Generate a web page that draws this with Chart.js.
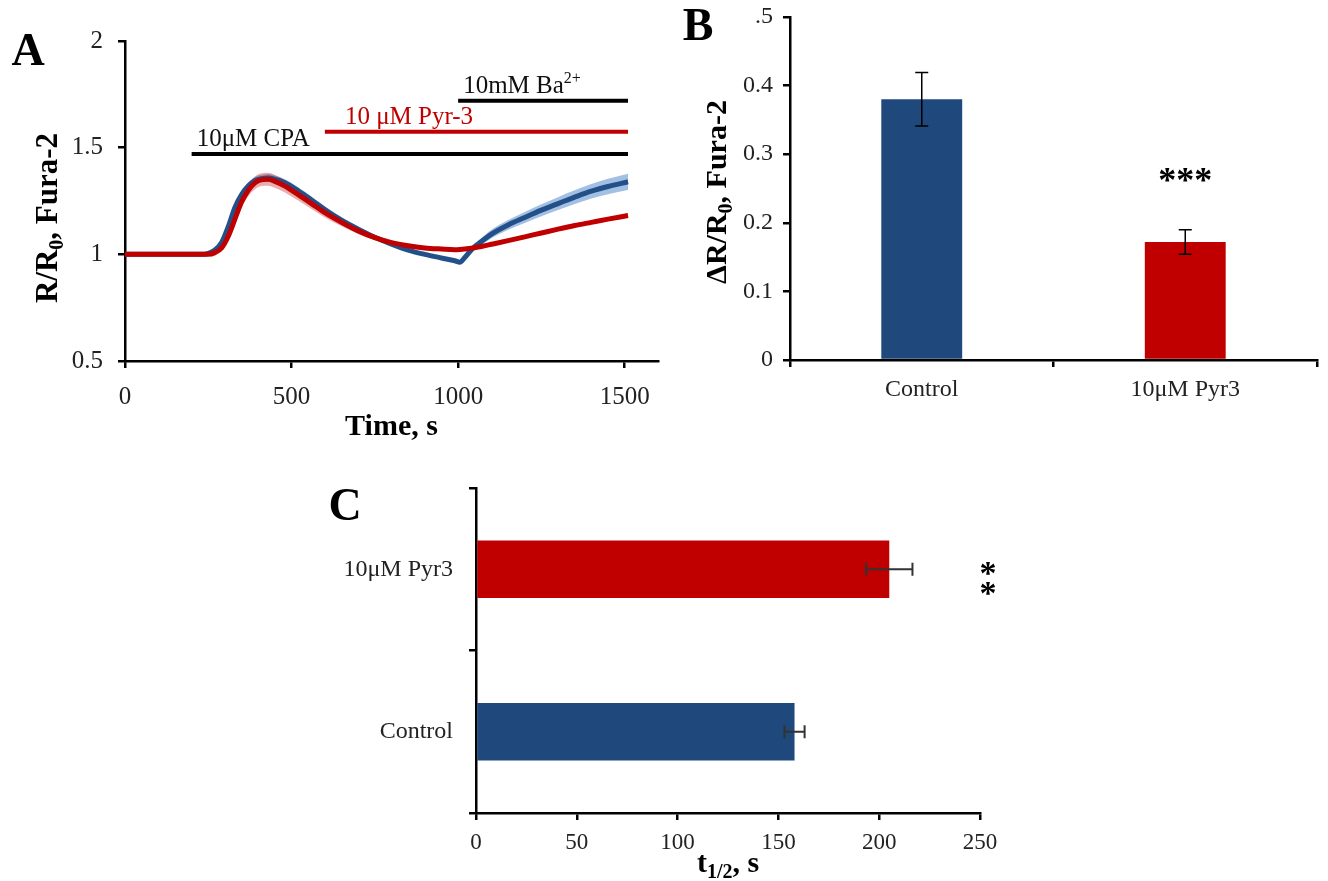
<!DOCTYPE html>
<html>
<head>
<meta charset="utf-8">
<title>Pyr3 and store-operated Ca2+ entry</title>
<script src="https://cdn.jsdelivr.net/npm/chart.js"></script>
<style>
    html, body { margin: 0; padding: 0; background: #fff; }
    #figure { position: relative; width: 1328px; height: 881px; }
    #figure canvas { position: absolute; }
</style>
</head>
<body>
<div id="figure">
    <canvas id="chartA" width="680" height="450" style="left:0;top:0"></canvas>
    <canvas id="chartB" width="648" height="420" style="left:680px;top:0"></canvas>
    <canvas id="chartC" width="740" height="411" style="left:300px;top:470px"></canvas>
</div>
<script>
// ---- Panel A: Fura-2 ratio traces (mean +/- SEM) ----
const timeS = [0, 50, 100, 150, 200, 230, 250, 270, 290, 310, 330, 350, 370, 390, 410, 430, 450, 480,
    520, 560, 600, 650, 700, 750, 800, 850, 900, 950, 990, 1005, 1020, 1045, 1070, 1100, 1150, 1200,
    1250, 1300, 1350, 1400, 1450, 1510];
const controlMean = [1.0, 1.0, 1.0, 1.0, 1.0, 1.0, 1.005, 1.02, 1.055, 1.13, 1.22, 1.28, 1.32, 1.345,
    1.355, 1.358, 1.352, 1.335, 1.298, 1.255, 1.21, 1.16, 1.118, 1.08, 1.048, 1.02, 1.0, 0.983, 0.97,
    0.963, 0.985, 1.03, 1.06, 1.095, 1.138, 1.173, 1.207, 1.238, 1.268, 1.296, 1.318, 1.34];
const controlSem = [0.003, 0.003, 0.003, 0.003, 0.003, 0.003, 0.004, 0.006, 0.008, 0.012, 0.015, 0.017,
    0.018, 0.018, 0.018, 0.018, 0.018, 0.017, 0.016, 0.015, 0.014, 0.013, 0.012, 0.011, 0.01, 0.009,
    0.008, 0.008, 0.008, 0.008, 0.01, 0.014, 0.017, 0.02, 0.023, 0.026, 0.028, 0.03, 0.032, 0.034,
    0.036, 0.038];
const pyr3Mean = [1.0, 1.0, 1.0, 1.0, 1.0, 1.0, 1.0, 1.008, 1.03, 1.085, 1.165, 1.245, 1.3, 1.335, 1.35,
    1.352, 1.342, 1.32, 1.28, 1.238, 1.195, 1.15, 1.11, 1.078, 1.055, 1.04, 1.03, 1.025, 1.022, 1.023,
    1.025, 1.03, 1.037, 1.047, 1.064, 1.082, 1.1, 1.118, 1.135, 1.15, 1.165, 1.182];
const pyr3Sem = [0.003, 0.003, 0.003, 0.003, 0.003, 0.003, 0.004, 0.006, 0.01, 0.015, 0.02, 0.025, 0.028,
    0.03, 0.03, 0.03, 0.03, 0.03, 0.028, 0.025, 0.022, 0.018, 0.015, 0.012, 0.01, 0.008, 0.007, 0.006,
    0.006, 0.006, 0.006, 0.006, 0.006, 0.007, 0.007, 0.008, 0.008, 0.008, 0.009, 0.009, 0.009, 0.01];

// treatment bars drawn above the traces
const treatLabels = ['10μM CPA', '10 μM Pyr-3', '10mM Ba'];
const treatStart = [200, 600, 1000];
const treatEnd = [1510, 1510, 1510];
const treatLevel = [1.47, 1.575, 1.72];

// ---- Panels B and C: summary bars ----
const groups = ['Control', '10μM Pyr3'];
const amplitude = [0.38, 0.172];
const amplitudeSem = [0.039, 0.018];
const halfTime = [158, 205];
const halfTimeSem = [5, 11.5];

const FONT = '"Liberation Serif", "Times New Roman", serif';
const BLUE = '#1f497d';
const BLUE_LINE = '#24508a';
const RED = '#c00000';
const TEXT = '#222';

const axisGrid = { drawOnChartArea: false, drawTicks: true, tickLength: 7, color: '#000', lineWidth: 2.5 };
const axisBorder = { display: true, color: '#000', width: 2.5 };

/**
 * Draw text with sub/superscript runs. runs = [[text, 'sub'|'sup'|undefined], ...]
 * (x, y) is the start/centre point on the alphabetic baseline.
 */
function drawRich(ctx, runs, x, y, opt) {
    const size = opt.size;
    const weight = opt.weight || 'normal';
    ctx.save();
    ctx.translate(x, y);
    if (opt.angle) ctx.rotate(opt.angle);
    const fonts = runs.map(r => `${weight} ${r[1] ? Math.round(size * 0.65) : size}px ${FONT}`);
    let total = 0;
    const widths = runs.map((r, i) => {
        ctx.font = fonts[i];
        const w = ctx.measureText(r[0]).width;
        total += w;
        return w;
    });
    let cx = opt.align === 'left' ? 0 : -total / 2;
    ctx.fillStyle = opt.color || '#000';
    ctx.textAlign = 'left';
    ctx.textBaseline = 'alphabetic';
    runs.forEach((r, i) => {
        ctx.font = fonts[i];
        const dy = r[1] === 'sub' ? size * 0.2 : r[1] === 'sup' ? -size * 0.38 : 0;
        ctx.fillText(r[0], cx, dy);
        cx += widths[i];
    });
    ctx.restore();
}

function makeErrorBars(errors, color, width, cap) {
    return {
        id: 'errorBars',
        afterDatasetsDraw(chart) {
            const horizontal = chart.options.indexAxis === 'y';
            const vScale = horizontal ? chart.scales.x : chart.scales.y;
            const values = chart.data.datasets[0].data;
            const ctx = chart.ctx;
            ctx.save();
            ctx.strokeStyle = color;
            ctx.lineWidth = width;
            chart.getDatasetMeta(0).data.forEach((bar, i) => {
                const lo = vScale.getPixelForValue(values[i] - errors[i]);
                const hi = vScale.getPixelForValue(values[i] + errors[i]);
                ctx.beginPath();
                if (horizontal) {
                    ctx.moveTo(lo, bar.y); ctx.lineTo(hi, bar.y);
                    ctx.moveTo(lo, bar.y - cap); ctx.lineTo(lo, bar.y + cap);
                    ctx.moveTo(hi, bar.y - cap); ctx.lineTo(hi, bar.y + cap);
                } else {
                    ctx.moveTo(bar.x, lo); ctx.lineTo(bar.x, hi);
                    ctx.moveTo(bar.x - cap, lo); ctx.lineTo(bar.x + cap, lo);
                    ctx.moveTo(bar.x - cap, hi); ctx.lineTo(bar.x + cap, hi);
                }
                ctx.stroke();
            });
            ctx.restore();
        }
    };
}

function tickFont(size) {
    return { family: FONT, size: size };
}

// fix the width of a vertical axis and stop its labels from pushing the plot area around
function fixedWidth(w) {
    return s => { s.width = w; s.paddingTop = 0; s.paddingBottom = 0; };
}

const noLegend = { legend: { display: false }, tooltip: { enabled: false } };

// ---------- Panel A ----------
const toXY = ys => timeS.map((t, i) => ({ x: t, y: ys[i] }));
const bandXY = (m, s, sign) => timeS.map((t, i) => ({ x: t, y: m[i] + sign * s[i] }));
const lineBase = { pointRadius: 0, cubicInterpolationMode: 'monotone' };
const clear = 'rgba(0,0,0,0)';

const panelAText = {
    id: 'panelAText',
    afterDraw(chart) {
        const ctx = chart.ctx;
        const xs = chart.scales.x, ys = chart.scales.y;
        drawRich(ctx, [['A']], 28, 65, { size: 46, weight: 'bold' });
        drawRich(ctx, [['R/R'], ['0', 'sub'], [', Fura-2']], 57, 218,
            { size: 31, weight: 'bold', angle: -Math.PI / 2 });
        const textDx = [5, 20, 5];
        treatLabels.forEach((label, i) => {
            const runs = i === 2 ? [[label], ['2+', 'sup']] : [[label]];
            drawRich(ctx, runs, xs.getPixelForValue(treatStart[i]) + textDx[i],
                ys.getPixelForValue(treatLevel[i]) - 8,
                { size: 25, align: 'left', color: i === 1 ? RED : '#111' });
        });
    }
};

new Chart(document.getElementById('chartA'), {
    type: 'line',
    data: {
        datasets: [
            { ...lineBase, data: bandXY(controlMean, controlSem, 1), fill: '+1', borderWidth: 0,
              borderColor: clear, backgroundColor: 'rgba(70,130,200,0.5)', order: 6 },
            { ...lineBase, data: bandXY(controlMean, controlSem, -1), fill: false, borderWidth: 0,
              borderColor: clear, order: 6 },
            { ...lineBase, data: bandXY(pyr3Mean, pyr3Sem, 1), fill: '+1', borderWidth: 0,
              borderColor: clear, backgroundColor: 'rgba(200,40,40,0.38)', order: 5 },
            { ...lineBase, data: bandXY(pyr3Mean, pyr3Sem, -1), fill: false, borderWidth: 0,
              borderColor: clear, order: 5 },
            { ...lineBase, data: toXY(controlMean), borderColor: BLUE_LINE, borderWidth: 5, order: 2 },
            { ...lineBase, data: toXY(pyr3Mean), borderColor: RED, borderWidth: 5, order: 1 },
            ...treatLabels.map((label, i) => ({
                pointRadius: 0,
                data: [{ x: treatStart[i], y: treatLevel[i] }, { x: treatEnd[i], y: treatLevel[i] }],
                borderColor: i === 1 ? RED : '#000',
                borderWidth: 4,
                borderCapStyle: 'butt',
                order: 0
            }))
        ]
    },
    options: {
        responsive: false,
        animation: false,
        layout: { padding: { left: 0, right: 22, top: 41, bottom: 0 } },
        plugins: noLegend,
        scales: {
            x: {
                type: 'linear', min: 0, max: 1600,
                ticks: {
                    stepSize: 100, font: tickFont(25), color: TEXT, padding: 14,
                    maxRotation: 0, autoSkip: false,
                    // only every 500 s gets a label and a tick mark
                    callback: v => (v % 500 === 0 ? String(v) : null)
                },
                grid: axisGrid, border: axisBorder,
                title: { display: true, text: 'Time, s', color: '#000',
                         font: { family: FONT, size: 30, weight: 'bold' }, padding: { top: 0, bottom: 5 } },
                afterFit: s => { s.height = 89; }
            },
            y: {
                min: 0.5, max: 2,
                ticks: { stepSize: 0.5, font: tickFont(25), color: TEXT, padding: 15,
                         callback: v => String(v) },
                grid: axisGrid, border: axisBorder,
                afterFit: fixedWidth(125)
            }
        }
    },
    plugins: [panelAText]
});

// ---------- Panel B ----------
const panelBText = {
    id: 'panelBText',
    afterDraw(chart) {
        const ctx = chart.ctx;
        drawRich(ctx, [['B']], 18, 40, { size: 46, weight: 'bold' });
        drawRich(ctx, [['ΔR/R'], ['0', 'sub'], [', Fura-2']], 46, 192,
            { size: 30, weight: 'bold', angle: -Math.PI / 2 });
        drawRich(ctx, [['***']], chart.scales.x.getPixelForValue(1), 192, { size: 36, weight: 'bold' });
    }
};

new Chart(document.getElementById('chartB'), {
    type: 'bar',
    data: {
        labels: groups,
        datasets: [{
            data: amplitude,
            backgroundColor: [BLUE, RED],
            barPercentage: 0.307,
            categoryPercentage: 1
        }]
    },
    options: {
        responsive: false,
        animation: false,
        layout: { padding: { left: 0, right: 11, top: 17, bottom: 0 } },
        plugins: noLegend,
        scales: {
            x: {
                grid: { ...axisGrid, offset: true },
                border: axisBorder,
                ticks: { font: tickFont(24), color: TEXT, padding: 8 },
                afterFit: s => { s.height = 60; }
            },
            y: {
                min: 0, max: 0.5,
                ticks: {
                    stepSize: 0.1, font: tickFont(24), color: TEXT, padding: 10,
                    callback: v => (Math.abs(v - 0.5) < 1e-9 ? '.5' : String(Math.round(v * 10) / 10))
                },
                grid: axisGrid, border: axisBorder,
                afterFit: fixedWidth(110)
            }
        }
    },
    plugins: [makeErrorBars(amplitudeSem, '#000', 1.5, 6.5), panelBText]
});

// ---------- Panel C ----------
const panelCText = {
    id: 'panelCText',
    afterDraw(chart) {
        const ctx = chart.ctx;
        drawRich(ctx, [['C']], 45, 50, { size: 46, weight: 'bold' });
        drawRich(ctx, [['t'], ['1/2', 'sub'], [', s']], 428, 402, { size: 30, weight: 'bold' });
        drawRich(ctx, [['*']], 688, 114, { size: 34, weight: 'bold' });
        drawRich(ctx, [['*']], 688, 134, { size: 34, weight: 'bold' });
    }
};

new Chart(document.getElementById('chartC'), {
    type: 'bar',
    data: {
        labels: groups,
        datasets: [{
            data: halfTime,
            backgroundColor: [BLUE, RED],
            barPercentage: 0.355,
            categoryPercentage: 1
        }]
    },
    options: {
        indexAxis: 'y',
        responsive: false,
        animation: false,
        layout: { padding: { left: 0, right: 60, top: 18, bottom: 0 } },
        plugins: noLegend,
        scales: {
            x: {
                min: 0, max: 250,
                ticks: { stepSize: 50, font: tickFont(23), color: TEXT, padding: 9 },
                grid: axisGrid, border: axisBorder,
                afterFit: s => { s.height = 68; }
            },
            y: {
                reverse: true,
                grid: { ...axisGrid, offset: true },
                border: axisBorder,
                ticks: { font: tickFont(24), color: TEXT, padding: 16 },
                afterFit: fixedWidth(176)
            }
        }
    },
    plugins: [makeErrorBars(halfTimeSem, '#333', 2, 6.5), panelCText]
});
</script>
</body>
</html>
